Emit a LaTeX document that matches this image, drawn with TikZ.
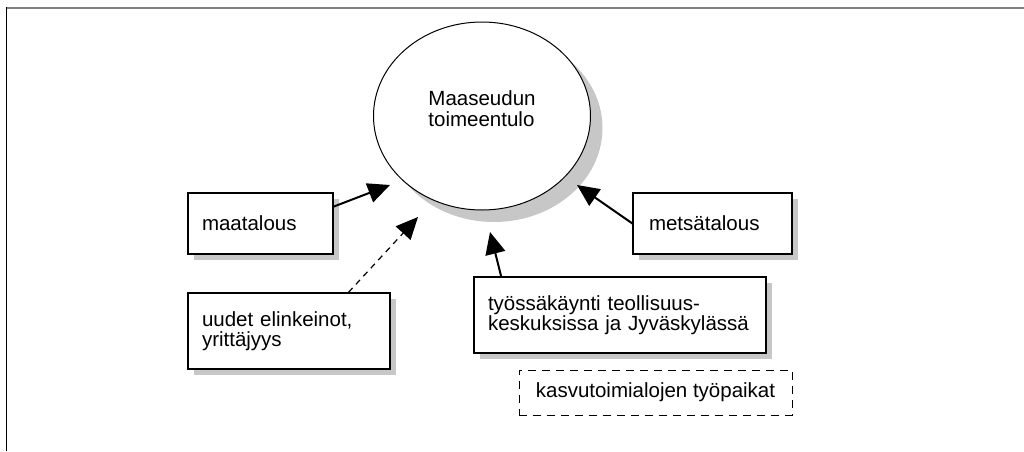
\documentclass[tikz,border=0pt]{standalone}
\usepackage{fontspec}
\setmainfont{Liberation Sans}
\usetikzlibrary{shapes.geometric,arrows.meta,shadows}

\begin{document}
\begin{tikzpicture}[
  x=0.5pt, y=-0.5pt,
  every node/.style={font=\fontsize{10.25}{10}\selectfont},
  shadowed/.style={drop shadow={shadow xshift=3pt, shadow yshift=-3pt, fill=black!22, opacity=1}},
  box/.style={draw, line width=0.6pt, fill=white, shadowed, align=left, inner xsep=7pt, inner ysep=0pt},
  dbox/.style={draw, dash pattern=on 4pt off 3pt, line width=0.5pt, inner sep=0pt},
  inflow/.style={-{Triangle[length=11pt,width=10pt]}, line width=1pt},
  weak/.style={inflow, line width=0.6pt, dash pattern=on 3pt off 2.5pt}
  ]
  \useasboundingbox (0,0) rectangle (1024,451);
  % frame
  \draw[gray, line width=1pt] (6,7.5) -- (1024,7.5);
  \draw[line width=0.5pt] (6,7) -- (6,451);

  \node[ellipse, draw, line width=0.5pt, fill=white, minimum width=108.5pt, minimum height=94pt,
    inner sep=0pt, align=left, text depth=7pt, font=\fontsize{10.25}{10.5}\selectfont,
    drop shadow={shadow xshift=6pt, shadow yshift=-6pt, fill=black!22, opacity=1}]
    (el) at (482,116) {Maaseudun\\toimeentulo};

  \node[box, minimum height=30.5pt, text width=58.5pt] (maat) at (260.5,223.5) {maatalous};
  \node[box, minimum height=38pt, text width=87pt] (uudet) at (289,331) {uudet elinkeinot,\\yrittäjyys};
  \node[box, minimum height=30.5pt, text width=63.5pt, inner xsep=8pt] (mets) at (712.5,223.5) {metsätalous};
  \node[box, minimum height=38pt, text width=132pt] (tyo) at (620,315)
    {työssäkäynti teollisuus-\\keskuksissa ja Jyväskylässä};
  \node[dbox, minimum width=136.5pt, minimum height=22.5pt] (kasvu) at (655.5,392.5) {kasvutoimialojen työpaikat};

  % arrow tips, just off the ellipse
  \coordinate (in1) at (390,185);
  \coordinate (in2) at (418,217);
  \coordinate (in3) at (577,185);
  \coordinate (in4) at (490,232);

  \draw[inflow] (maat.13) -- (in1);
  \draw[weak] (uudet.33) -- (in2);
  \draw[inflow] (mets.west) -- (in3);
  \draw[inflow] (tyo.162) -- (in4);
\end{tikzpicture}
\end{document}
